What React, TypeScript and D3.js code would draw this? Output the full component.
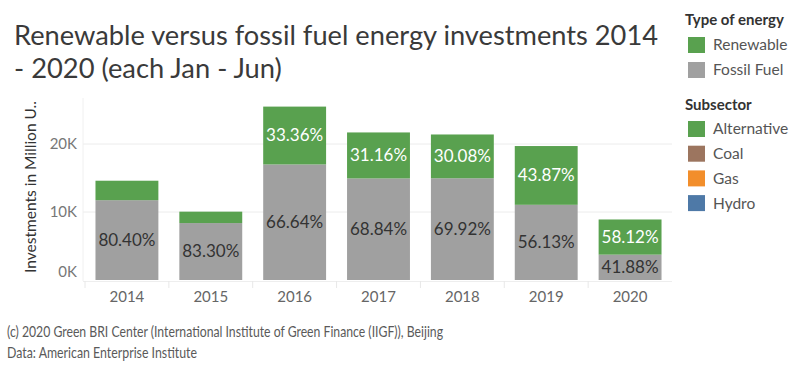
import * as React from 'react';
import * as d3 from 'd3';

const years = ['2014', '2015', '2016', '2017', '2018', '2019', '2020'];
// total Jan-Jun investment per year, million USD
const totals = [14600, 10050, 25500, 21700, 21400, 19700, 8900];
// share of fossil fuel in each year's total, %
const fossilShare = [80.40, 83.30, 66.64, 68.84, 69.92, 56.13, 41.88];
const renewableShare = [19.60, 16.70, 33.36, 31.16, 30.08, 43.87, 58.12];
const yTicks = [0, 10000, 20000];

const energyLegend = [
  { label: 'Renewable', color: '#59a14f' },
  { label: 'Fossil Fuel', color: '#a0a0a0' },
];
const subsectorLegend = [
  { label: 'Alternative', color: '#59a14f' },
  { label: 'Coal', color: '#9c755f' },
  { label: 'Gas', color: '#f28e2b' },
  { label: 'Hydro', color: '#4e79a7' },
];

const W = 800;
const H = 368;
const font = 'Lato, "Open Sans", sans-serif';

export default function App() {
  const x = d3.scaleBand<string>()
    .domain(years)
    .range([85, 672])
    .paddingInner(0.25)
    .paddingOuter(0.125);
  const y = d3.scaleLinear().domain([0, 10000]).range([280, 212]);

  const rows = years.map((yr, i) => {
    const fossil = totals[i] * fossilShare[i] / 100;
    return { yr, fossil, total: totals[i], fs: fossilShare[i], rs: renewableShare[i] };
  });

  return (
    <div style={{ position: 'absolute', left: 0, top: 0 }}>
      <svg width={W} height={H} style={{ display: 'block', fontFamily: font }}>
        <rect width={W} height={H} fill="#fff" />
        {/* title */}
        <text x={14} y={45} fontSize={27.3} fill="#3a3a3a" textLength={644} lengthAdjust="spacingAndGlyphs">
          Renewable versus fossil fuel energy investments 2014
        </text>
        <text x={14} y={78} fontSize={27.3} fill="#3a3a3a">- 2020 (each Jan - Jun)</text>

        {/* gridlines */}
        {yTicks.filter((t) => t > 0).map((t) => (
          <line key={t} x1={83} x2={672} y1={y(t)} y2={y(t)} stroke="#ececec" strokeWidth={1} />
        ))}
        <line x1={83} x2={83} y1={98} y2={281} stroke="#f0f0f0" />
        <line x1={83} x2={672} y1={281.5} y2={281.5} stroke="#eeeeee" />
        {years.map((yr, i) => (
          <line key={'d' + i} x1={x(yr)! - (x.step() - x.bandwidth()) / 2} x2={x(yr)! - (x.step() - x.bandwidth()) / 2}
            y1={281} y2={288} stroke="#e8e8e8" />
        ))}

        {/* y axis */}
        {yTicks.map((t, i) => (
          <text key={t} x={77} y={i === 0 ? y(t) - 8 : y(t)} dy="0.35em" textAnchor="end" fontSize={15} fill="#777">
            {d3.format('.0f')(t / 1000) + 'K'}
          </text>
        ))}
        <text transform="translate(36,187) rotate(-90)" textAnchor="middle" fontSize={15.5} fill="#333">
          Investments in Million U..
        </text>

        {/* bars */}
        {rows.map((r) => {
          const bx = x(r.yr)!;
          const bw = x.bandwidth();
          const yF = y(r.fossil);
          const yT = y(r.total);
          return (
            <g key={r.yr}>
              <rect x={bx} y={yF} width={bw} height={y(0) - yF} fill="#a0a0a0" />
              <rect x={bx} y={yT} width={bw} height={yF - yT} fill="#59a14f" />
              <text x={bx + bw / 2} y={(yF + y(0)) / 2} dy="0.35em" textAnchor="middle" fontSize={17} fill="#333">
                {r.fs.toFixed(2) + '%'}
              </text>
              {yF - yT > 24 && (
                <text x={bx + bw / 2} y={(yT + yF) / 2} dy="0.35em" textAnchor="middle" fontSize={17} fill="#fff">
                  {r.rs.toFixed(2) + '%'}
                </text>
              )}
              <text x={bx + bw / 2} y={297} dy="0.35em" textAnchor="middle" fontSize={15} fill="#666">
                {r.yr}
              </text>
            </g>
          );
        })}

        {/* legends */}
        <text x={685} y={25} fontSize={15} fontWeight="bold" fill="#333">Type of energy</text>
        {energyLegend.map((d, i) => (
          <g key={d.label} transform={`translate(688,${37 + i * 25})`}>
            <rect width={17} height={16} fill={d.color} />
            <text x={25} y={8} dy="0.35em" fontSize={15.5} fill="#555">{d.label}</text>
          </g>
        ))}
        <text x={685} y={110} fontSize={15} fontWeight="bold" fill="#333">Subsector</text>
        {subsectorLegend.map((d, i) => (
          <g key={d.label} transform={`translate(688,${121 + i * 24.7})`}>
            <rect width={17} height={16} fill={d.color} />
            <text x={25} y={8} dy="0.35em" fontSize={15.5} fill="#555">{d.label}</text>
          </g>
        ))}

        {/* footer */}
        <text x={7} y={337} fontSize={15} fill="#5a5a5a" textLength={436} lengthAdjust="spacingAndGlyphs">
          (c) 2020 Green BRI Center (International Institute of Green Finance (IIGF)), Beijing
        </text>
        <text x={7} y={358} fontSize={15} fill="#5a5a5a" textLength={190} lengthAdjust="spacingAndGlyphs">
          Data: American Enterprise Institute
        </text>
      </svg>
    </div>
  );
}
